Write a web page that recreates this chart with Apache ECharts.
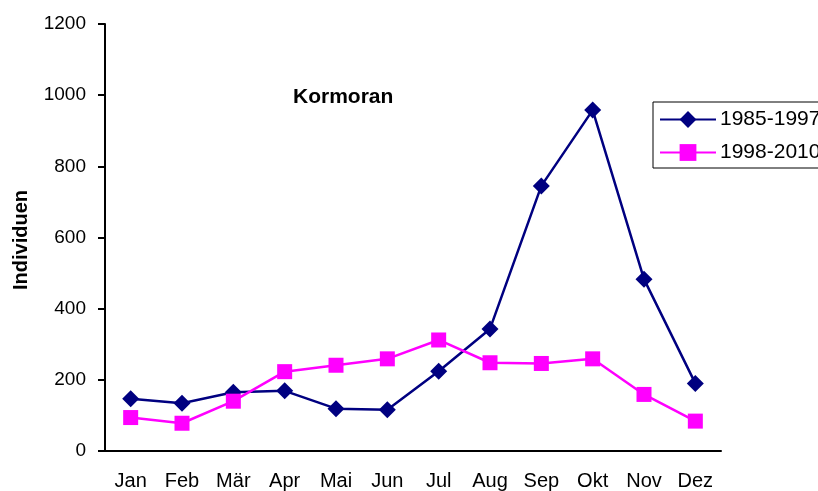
<!DOCTYPE html>
<html>
<head>
<meta charset="utf-8">
<script src="https://cdn.jsdelivr.net/npm/echarts@6/dist/echarts.min.js"></script>
<style>
    html, body { margin: 0; padding: 0; background: #fff; }
    #chart { width: 818px; height: 491px; }
</style>
</head>
<body>
<div id="chart"></div>
<script>
    // Monate
    var months = ['Jan', 'Feb', 'Mär', 'Apr', 'Mai', 'Jun', 'Jul', 'Aug', 'Sep', 'Okt', 'Nov', 'Dez'];
    // Kormoran, Individuen
    var p1985 = [147, 134, 165, 169, 119, 116, 224, 343, 745, 958, 483, 190];
    var p1998 = [94, 78, 140, 223, 241, 259, 312, 248, 246, 259, 159, 84];
    var yTicks = [0, 200, 400, 600, 800, 1000, 1200];

    var font = '"Liberation Sans", Arial, sans-serif';
    var chart = echarts.init(document.getElementById('chart'));

    var option = {
        animation: false,
        backgroundColor: '#fff',
        title: {
            text: 'Kormoran',
            left: 288,
            top: 82,
            textStyle: { fontFamily: font, fontSize: 21, fontWeight: 'bold', color: '#000' }
        },
        legend: {
            orient: 'vertical',
            left: 653,
            top: 102,
            padding: [7, 40, 5, 6],
            itemGap: 12,
            itemWidth: 56,
            itemHeight: 21,
            borderColor: '#000',
            borderWidth: 1,
            textStyle: { fontFamily: font, fontSize: 21, color: '#000', padding: [0, 0, 0, -1] },
            data: ['1985-1997', '1998-2010']
        },
        grid: { left: 105, right: 97, top: 24, bottom: 39, containLabel: false },
        xAxis: {
            type: 'category',
            data: months,
            boundaryGap: true,
            axisLine: { lineStyle: { color: '#000', width: 2 } },
            axisTick: { length: 7, lineStyle: { color: '#000', width: 2 } },
            axisLabel: { fontFamily: font, fontSize: 20, color: '#000', margin: 20 },
            splitLine: { show: false }
        },
        yAxis: {
            type: 'value',
            min: yTicks[0],
            max: yTicks[yTicks.length - 1],
            interval: 200,
            axisLine: { show: true, lineStyle: { color: '#000', width: 2 } },
            axisTick: { show: true, length: 7, lineStyle: { color: '#000', width: 2 } },
            axisLabel: {
                fontFamily: font, fontSize: 19, color: '#000', margin: 19,
                formatter: function (v) { return String(v); }
            },
            splitLine: { show: false }
        },
        graphic: [{
            type: 'text',
            x: 21,
            y: 240,
            rotation: Math.PI / 2,
            style: {
                text: 'Individuen',
                fontFamily: font,
                fontSize: 20,
                fontWeight: 'bold',
                fill: '#000',
                align: 'center',
                verticalAlign: 'middle'
            }
        }],
        series: [
            {
                name: '1985-1997',
                type: 'line',
                data: p1985,
                symbol: 'diamond',
                symbolSize: 17,
                color: '#000080',
                lineStyle: { color: '#000080', width: 2.5 },
                itemStyle: { color: '#000080' }
            },
            {
                name: '1998-2010',
                type: 'line',
                data: p1998,
                symbol: 'rect',
                symbolSize: 15,
                color: '#FF00FF',
                lineStyle: { color: '#FF00FF', width: 2.5 },
                itemStyle: { color: '#FF00FF' }
            }
        ]
    };
    chart.setOption(option);
</script>
</body>
</html>
